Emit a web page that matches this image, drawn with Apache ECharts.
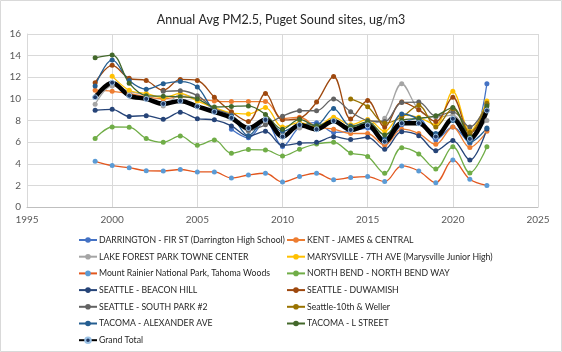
<!DOCTYPE html>
<html>
<head>
<meta charset="utf-8">
<script src="https://cdn.jsdelivr.net/npm/echarts@6/dist/echarts.min.js"></script>
<style>
  html, body { margin: 0; padding: 0; background: #fff; }
  #chart { width: 562px; height: 352px; }
</style>
</head>
<body>
<div id="chart"></div>
<script>
// years 1999..2022, annual average PM2.5 (ug/m3) per site
const years = [1999, 2000, 2001, 2002, 2003, 2004, 2005, 2006, 2007, 2008, 2009, 2010,
  2011, 2012, 2013, 2014, 2015, 2016, 2017, 2018, 2019, 2020, 2021, 2022]

const darrington   = [null, null, null, null, null, null, null, null, 7.2, 6.4, 8.0, 5.6, 7.4, 7.8, 6.9, 7.0, 7.3, 5.8, 7.6, 8.2, 6.2, 7.4, 5.9, 11.4]
const kent         = [10.8, 10.7, 10.5, 10.2, 10.0, 10.2, 10.0, 9.8, 9.75, 9.75, 9.75, 8.2, 8.3, 7.4, 7.2, 6.8, 6.8, 5.7, 7.2, 6.8, 5.8, 7.4, 5.5, 7.0]
const lakeForest   = [9.5, 11.2, 10.7, 10.3, 9.35, 10.4, 10.0, 9.0, 8.4, 7.0, 7.8, 6.8, 7.3, 7.5, 8.0, 7.2, 7.6, 8.2, 11.4, 9.0, 8.3, 8.5, 6.9, 8.0]
const marysville   = [null, 12.1, 10.8, 10.5, 10.1, 10.5, 9.8, 9.2, 8.7, 8.6, 9.2, 7.4, 7.8, 7.4, 8.3, 7.6, 8.1, 7.0, 8.5, 8.3, 7.6, 10.7, 7.0, 9.8]
const mtRainier    = [4.23, 3.83, 3.64, 3.36, 3.33, 3.47, 3.24, 3.24, 2.69, 2.96, 3.12, 2.31, 2.81, 3.12, 2.53, 2.73, 2.81, 2.35, 3.8, 3.33, 2.25, 4.35, 2.56, 2.0]
const northBend    = [6.33, 7.4, 7.38, 6.33, 5.99, 6.57, 5.71, 6.2, 4.97, 5.31, 5.28, 4.72, 5.34, 5.83, 5.99, 5.0, 4.66, 3.12, 5.49, 4.91, 3.52, 5.58, 3.15, 5.58]
const beaconHill   = [8.95, 9.03, 8.38, 8.45, 8.12, 8.77, 8.17, 8.06, 7.5, 6.55, 7.0, 5.7, 5.9, 5.98, 6.5, 6.25, 6.45, 5.34, 6.97, 6.6, 5.21, 6.14, 4.35, 7.22]
const duwamish     = [11.5, 13.1, 11.9, 11.7, 10.8, 11.8, 11.7, 10.15, 8.8, 7.9, 10.5, 8.06, 8.2, 9.7, 12.07, 8.15, 9.85, 7.4, 9.7, 9.0, 7.9, 10.15, 6.8, 9.0]
const southPark    = [null, null, null, null, 10.7, 10.75, 10.3, 9.1, 8.5, 7.1, 7.6, 8.4, 8.9, 8.9, 10.0, 8.82, 8.0, 7.9, 9.66, 9.7, 8.4, 8.8, 7.4, 9.5]
const tenthWeller  = [null, null, null, null, null, null, null, null, null, null, null, null, null, null, null, 10.0, 9.27, 7.75, 8.3, 9.4, 7.4, 9.1, 6.9, 9.6]
const tacomaAlex   = [11.2, 13.6, 11.7, 10.9, 11.4, 11.6, 11.1, 8.9, 8.4, 6.6, 8.1, 7.0, 7.6, 7.6, 9.1, 7.5, 7.7, 6.3, 8.6, 8.1, 6.8, 8.0, 6.0, 7.3]
const tacomaL      = [13.8, 14.05, 11.45, 10.3, 10.25, 10.2, 10.0, 9.25, 9.3, 9.35, 8.55, 7.2, 8.1, 7.5, 8.0, 7.4, 7.9, 6.67, 8.0, 8.2, 8.43, 9.2, 6.5, 9.35]
const grandTotal   = [10.15, 11.5, 10.3, 10.0, 9.54, 9.81, 9.3, 8.8, 8.24, 7.3, 8.06, 6.5, 7.59, 7.19, 7.96, 7.13, 7.55, 6.05, 7.75, 7.75, 6.51, 8.16, 6.3, 8.92]

const xTicks = { min: 1995, max: 2025, step: 5 }
const yTicks = { min: 0, max: 16, step: 2 }

const sites = [
  { name: 'DARRINGTON - FIR ST (Darrington High School)', values: darrington, color: '#4472C4' },
  { name: 'KENT - JAMES & CENTRAL', values: kent, color: '#ED7D31' },
  { name: 'LAKE FOREST PARK TOWNE CENTER', values: lakeForest, color: '#A5A5A5' },
  { name: 'MARYSVILLE - 7TH AVE (Marysville Junior High)', values: marysville, color: '#FFC000' },
  { name: 'Mount Rainier National Park, Tahoma Woods', values: mtRainier, color: '#E2571E', marker: '#5B9BD5' },
  { name: 'NORTH BEND - NORTH BEND WAY', values: northBend, color: '#70AD47' },
  { name: 'SEATTLE - BEACON HILL', values: beaconHill, color: '#264478' },
  { name: 'SEATTLE - DUWAMISH', values: duwamish, color: '#9E480E' },
  { name: 'SEATTLE - SOUTH PARK #2', values: southPark, color: '#636363' },
  { name: 'Seattle-10th & Weller', values: tenthWeller, color: '#997300' },
  { name: 'TACOMA - ALEXANDER AVE', values: tacomaAlex, color: '#255E91' },
  { name: 'TACOMA - L STREET', values: tacomaL, color: '#43682B' }
]

const font = 'Lato, "Open Sans", sans-serif'
const chart = echarts.init(document.getElementById('chart'))

const series = sites.map(site => ({
  name: site.name,
  type: 'line',
  smooth: 0.35,
  symbol: 'circle',
  symbolSize: 5,
  lineStyle: { width: 1.3, color: site.color },
  itemStyle: { color: site.marker || site.color },
  data: years.map((y, i) => [y, site.values[i]])
}))

series.push({
  name: 'Grand Total',
  type: 'line',
  smooth: 0.35,
  symbol: 'circle',
  symbolSize: 5,
  lineStyle: { width: 4.5, color: '#000' },
  itemStyle: { color: '#1F3864', borderColor: '#9DC3E6', borderWidth: 1 },
  data: years.map((y, i) => [y, grandTotal[i]])
})

const legendBase = {
  orient: 'vertical',
  top: 234,
  height: 116,
  padding: 0,
  itemWidth: 18,
  itemHeight: 7,
  itemGap: 4.7,
  textStyle: { fontFamily: font, fontSize: 8.7, color: '#262626', lineHeight: 12, padding: [0, 0, 0, -3] }
}

const leftNames = [0, 2, 4, 6, 8, 10].map(i => sites[i].name).concat(['Grand Total'])
const rightNames = [1, 3, 5, 7, 9, 11].map(i => sites[i].name)

chart.setOption({
  animation: false,
  title: {
    text: 'Annual Avg PM2.5, Puget Sound sites, ug/m3',
    left: 'center',
    top: 8,
    textStyle: { fontFamily: font, fontSize: 12.5, fontWeight: 'normal', color: '#262626' }
  },
  grid: { left: 27, right: 24, top: 34, bottom: 145 },
  xAxis: {
    type: 'value',
    min: xTicks.min,
    max: xTicks.max,
    interval: xTicks.step,
    axisLine: { lineStyle: { color: '#BFBFBF' } },
    axisTick: { show: false },
    axisLabel: { fontFamily: font, fontSize: 10, color: '#595959', margin: 8, formatter: v => String(v) },
    splitLine: { lineStyle: { color: '#D9D9D9' } }
  },
  yAxis: {
    type: 'value',
    min: yTicks.min,
    max: yTicks.max,
    interval: yTicks.step,
    axisLine: { show: true, lineStyle: { color: '#D9D9D9' } },
    axisTick: { show: false },
    axisLabel: { fontFamily: font, fontSize: 10, color: '#595959', margin: 6 },
    splitLine: { lineStyle: { color: '#D9D9D9' } }
  },
  legend: [
    Object.assign({}, legendBase, { left: 78, data: leftNames }),
    Object.assign({}, legendBase, { left: 286, data: rightNames })
  ],
  graphic: [{
    type: 'rect',
    shape: { x: 0.5, y: 0.5, width: 561, height: 351 },
    style: { fill: null, stroke: '#D9D9D9', lineWidth: 1 },
    silent: true
  }],
  series
})
</script>
</body>
</html>
